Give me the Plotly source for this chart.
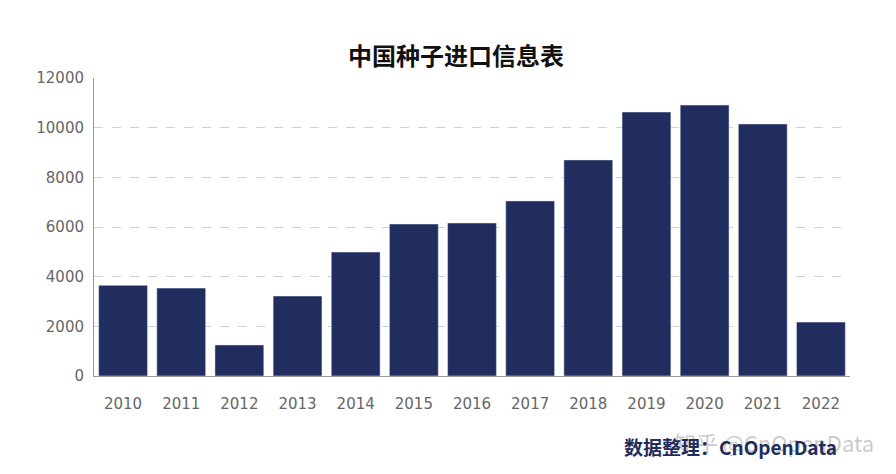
import plotly.graph_objects as go

years = ["2010","2011","2012","2013","2014","2015","2016","2017","2018","2019","2020","2021","2022"]
values = [3650, 3540, 1250, 3220, 4990, 6120, 6160, 7050, 8700, 10630, 10910, 10150, 2170]

fig = go.Figure(go.Bar(x=years, y=values, marker_color="#212d5e", width=0.84))
fig.update_layout(
    width=896, height=474, plot_bgcolor="white", paper_bgcolor="white",
    margin=dict(l=86, r=54, t=70, b=106),
    title=dict(text="<b>中国种子进口信息表</b>", x=0.5, y=0.915, xanchor="center",
               font=dict(family="Noto Sans CJK SC", size=24, color="#111")),
    font=dict(family="DejaVu Sans", size=15, color="#666"),
    showlegend=False,
)
fig.update_yaxes(range=[0, 12000], dtick=2000, tickformat="d", showgrid=True, gridcolor="#ccd0d8",
                 griddash="dash", zeroline=False, showline=True, linecolor="#999",
                 ticks="", ticklabelstandoff=6, tickfont=dict(size=15, color="#666"))
fig.update_xaxes(showline=True, linecolor="#999", ticks="", ticklabelstandoff=14,
                 tickfont=dict(size=15, color="#666"))
fig.add_annotation(text="知乎 @CnOpenData", xref="paper", yref="paper", x=1.035, y=-0.16,
                   xanchor="right", yanchor="top", showarrow=False,
                   font=dict(family="Noto Sans CJK SC", size=22, color="rgba(150,150,150,0.5)"))
fig.add_annotation(text="<b>数据整理：CnOpenData</b>", xref="paper", yref="paper", x=0.985, y=-0.185,
                   xanchor="right", yanchor="top", showarrow=False,
                   font=dict(family="Noto Sans CJK SC", size=19, color="#1f2d5c"))
fig.write_html("out.html")
